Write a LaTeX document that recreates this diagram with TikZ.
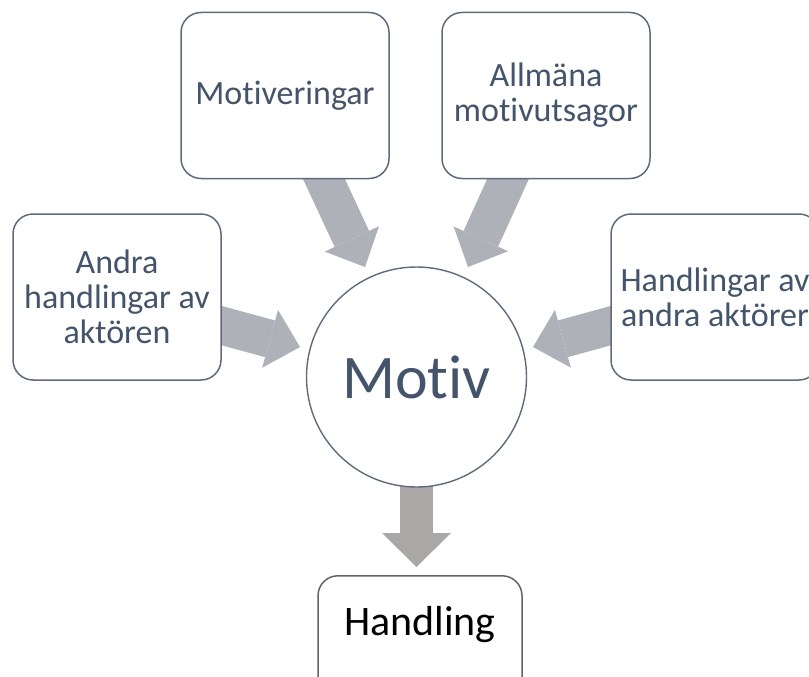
\documentclass[tikz,border=0pt]{standalone}
\usepackage{fontspec}
\setmainfont{Carlito}[Ligatures=NoCommon]
\usetikzlibrary{arrows.meta,backgrounds}
\definecolor{boxline}{RGB}{95,107,125}
\definecolor{txt}{RGB}{68,84,106}
\definecolor{arrowgray}{RGB}{174,177,184}
\definecolor{downgray}{RGB}{170,167,167}
\definecolor{hline}{RGB}{100,100,100}
\begin{document}
\begin{tikzpicture}[x=1pt,y=-1pt,
  box/.style={draw=boxline, line width=1.5pt, rounded corners=20pt, fill=white,
    minimum width=208pt, minimum height=166pt, align=center, text=txt,
    font=\fontsize{34}{35}\selectfont, inner sep=0pt},
  fat/.style={line width=38pt, draw=arrowgray,
    -{Triangle[width=60pt,length=31pt,line width=0pt]}},
  fatdown/.style={line width=33pt, draw=downgray,
    -{Triangle[width=69pt,length=34pt,line width=0pt]}},
]
\useasboundingbox (0,0) rectangle (809,677);
\clip (0,0) rectangle (809,677);

\node[box] (mot) at (285,95.5) {Motiveringar};
\node[box] (allm) at (546,95.5) {Allmäna\\motivutsagor};
\node[box] (andra) at (117,297) {Andra\\handlingar av\\aktören};
\node[box] (hand) at (715,297) {Handlingar av\\andra aktörer};
\node[circle, draw=boxline, line width=1.4pt, fill=white, minimum size=220pt,
  inner sep=0pt, text=txt, font=\fontsize{62}{62}\selectfont] (motiv) at (416.5,377) {Motiv};
\node[draw=hline, line width=1.5pt, rounded corners=20pt, fill=white,
  minimum width=204pt, inner sep=0pt, text height=60pt, text depth=65pt,
  anchor=north, font=\fontsize{42}{42}\selectfont] (handling) at (420,575) {Handling};

\coordinate (tl) at (365,267);
\coordinate (tr) at (468,267);
\coordinate (ml) at (300,347);
\coordinate (mr) at (533,347);
\coordinate (bt) at (416.5,567);

\begin{scope}[on background layer]
  \draw[fat] (mot.center) -- (tl);
  \draw[fat] (allm.center) -- (tr);
  \draw[fat] (andra.center) -- (ml);
  \draw[fat] (hand.center) -- (mr);
  \draw[fatdown] (motiv.center) -- (bt);
\end{scope}
\end{tikzpicture}
\end{document}
